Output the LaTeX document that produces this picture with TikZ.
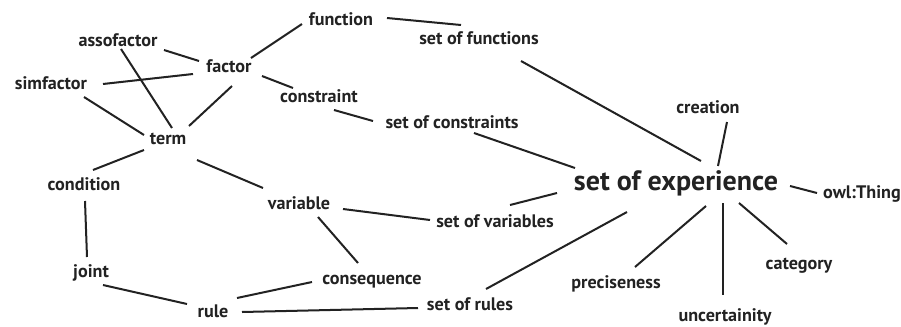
\documentclass[tikz,border=0pt]{standalone}
\usepackage{fontspec}
\setmainfont{PT Sans}
\usetikzlibrary{calc}
\definecolor{ink}{HTML}{222222}
\tikzset{
  lbl/.style={inner sep=0pt, text height=0.9em, text depth=0pt, anchor=center, text=ink, font=\bfseries\fontsize{13.6}{14}\selectfont},
  big/.style={lbl, font=\bfseries\fontsize{21}{22}\selectfont},
  link/.style={draw=ink, line width=1.5pt}
}
\begin{document}
\begin{tikzpicture}[x=0.75pt,y=-0.75pt]
\useasboundingbox (0,0) rectangle (901,326);
\node[lbl] (F) at (341,19) {function};
\node[lbl] (SF) at (479,38) {set of functions};
\node[lbl] (A) at (118,40) {assofactor};
\node[lbl] (Fa) at (229,66) {factor};
\node[lbl] (S) at (51,83) {simfactor};
\node[lbl] (C) at (319,96) {constraint};
\node[lbl] (SC) at (452,122) {set of constraints};
\node[lbl] (Cr) at (708,107) {creation};
\node[lbl] (T) at (168,138) {term};
\node[big] (E) at (676,184) {set of experience};
\node[lbl] (O) at (862,192) {owl:Thing};
\node[lbl] (Co) at (84,184) {condition};
\node[lbl] (V) at (299,203) {variable};
\node[lbl] (SV) at (495,221) {set of variables};
\node[lbl] (J) at (91,271) {joint};
\node[lbl] (Q) at (372,278) {consequence};
\node[lbl] (Ca) at (799,263) {category};
\node[lbl] (P) at (616,282) {preciseness};
\node[lbl] (SR) at (470,304) {set of rules};
\node[lbl] (R) at (213,311) {rule};
\node[lbl] (U) at (725,315) {uncertainity};

\draw[link] ($(F)+(46,-1)$) -- ($(SF)+(-18,-13)$);
\draw[link] ($(F)+(-39,5)$) -- ($(Fa)+(22,-8)$);
\draw[link] ($(SF)+(42,23)$) -- ($(E)+(25,-23)$);
\draw[link] ($(A)+(46,10)$) -- ($(Fa)+(-30,-5)$);
\draw[link] ($(A)+(3,9)$) -- ($(T)+(4,-10)$);
\draw[link] ($(S)+(52,1)$) -- ($(Fa)+(-36,8)$);
\draw[link] ($(S)+(33,14)$) -- ($(T)+(-24,-3)$);
\draw[link] ($(Fa)+(3,20)$) -- ($(T)+(21,-12)$);
\draw[link] ($(Fa)+(33,10)$) -- ($(C)+(-26,-8)$);
\draw[link] ($(C)+(15,14)$) -- ($(SC)+(-79,-1)$);
\draw[link] ($(SC)+(22,11)$) -- ($(E)+(-101,-16)$);
\draw[link] ($(Cr)+(19,15)$) -- ($(E)+(42,-18)$);
\draw[link] ($(E)+(114,2)$) -- ($(O)+(-45,1)$);
\draw[link] ($(T)+(-24,12)$) -- ($(Co)+(9,-14)$);
\draw[link] ($(T)+(29,22)$) -- ($(V)+(-36,-15)$);
\draw[link] ($(Co)+(1,17)$) -- ($(J)+(-4,-14)$);
\draw[link] ($(V)+(44,6)$) -- ($(SV)+(-65,-1)$);
\draw[link] ($(SV)+(15,-16)$) -- ($(E)+(-119,9)$);
\draw[link] ($(V)+(19,14)$) -- ($(Q)+(-14,-15)$);
\draw[link] ($(J)+(12,14)$) -- ($(R)+(-26,-7)$);
\draw[link] ($(Q)+(-60,4)$) -- ($(R)+(24,-13)$);
\draw[link] ($(R)+(29,1)$) -- ($(SR)+(-52,4)$);
\draw[link] ($(SR)+(16,-15)$) -- ($(E)+(-49,28)$);
\draw[link] ($(E)+(30,22)$) -- ($(P)+(19,-15)$);
\draw[link] ($(E)+(47,19)$) -- ($(U)+(-2,-20)$);
\draw[link] ($(E)+(63,19)$) -- ($(Ca)+(-12,-19)$);
\end{tikzpicture}
\end{document}
